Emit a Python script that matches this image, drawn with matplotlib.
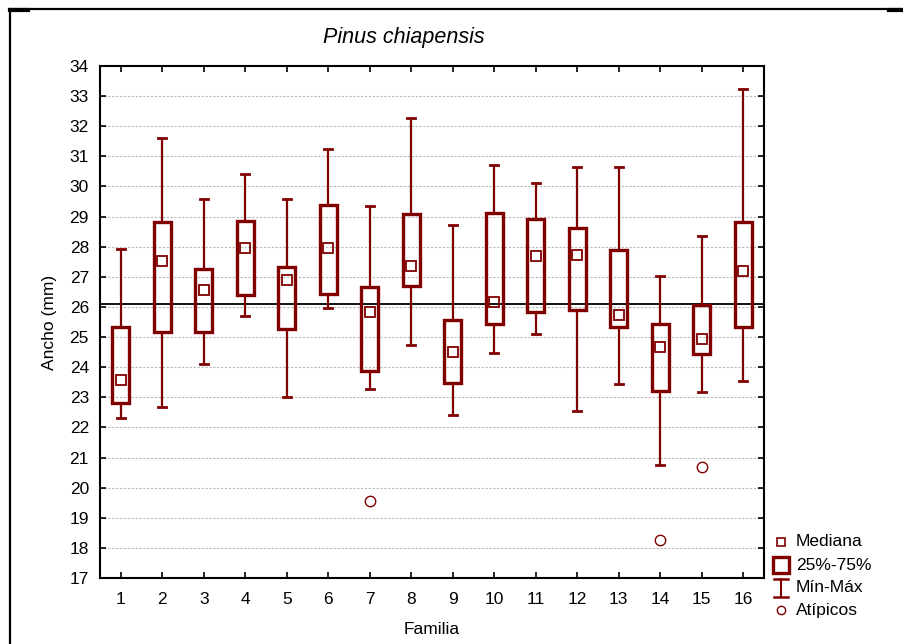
import matplotlib
matplotlib.use("Agg")
import matplotlib.pyplot as plt
from matplotlib.patches import Rectangle
from matplotlib.lines import Line2D

plt.rcParams['font.family'] = ['Liberation Sans', 'DejaVu Sans']

familias = list(range(1, 17))
minimo  = [22.30, 22.69, 24.12, 25.70, 23.00, 25.96, 23.27, 24.74, 22.42, 24.47, 25.11, 22.54, 23.45, 20.76, 23.17, 23.55]
q25     = [22.81, 25.17, 25.17, 26.39, 25.27, 26.44, 23.87, 26.69, 23.47, 25.42, 25.83, 25.90, 25.33, 23.21, 24.45, 25.35]
mediana = [23.59, 27.51, 26.55, 27.96, 26.88, 27.96, 25.84, 27.36, 24.50, 26.16, 27.68, 27.74, 25.74, 24.67, 24.93, 27.19]
q75     = [25.33, 28.81, 27.27, 28.84, 27.32, 29.40, 26.65, 29.07, 25.56, 29.11, 28.91, 28.61, 27.88, 25.45, 26.05, 28.81]
maximo  = [27.91, 31.62, 29.57, 30.40, 29.57, 31.23, 29.35, 32.29, 28.71, 30.72, 30.13, 30.64, 30.64, 27.04, 28.37, 33.22]
atipicos_x = [7, 14, 15]
atipicos_y = [19.55, 18.25, 20.69]
media_general = 26.1

RED = '#800000'
W, H = 904, 644
fig = plt.figure(figsize=(W / 100, H / 100), dpi=100)
ax = fig.add_axes([100 / W, 1 - 578 / H, 664 / W, 512 / H])

ax.set_ylim(17, 34)
ax.set_xlim(0.5, 16.5)
for yv in range(18, 34):
    ax.axhline(yv, color='#b8b8b8', lw=0.8, ls=(0, (2, 1.5)), zorder=0)

ax.axhline(media_general, color='black', lw=1.3, zorder=1)

bw = 0.4
cw = 0.2
for x, lo, a, m, b, hi in zip(familias, minimo, q25, mediana, q75, maximo):
    ax.plot([x, x], [b, hi], color=RED, lw=1.6, zorder=2, solid_capstyle='butt')
    ax.plot([x, x], [lo, a], color=RED, lw=1.6, zorder=2, solid_capstyle='butt')
    ax.plot([x - cw / 2, x + cw / 2], [hi, hi], color=RED, lw=2.0, zorder=2)
    ax.plot([x - cw / 2, x + cw / 2], [lo, lo], color=RED, lw=2.0, zorder=2)
    ax.add_patch(Rectangle((x - bw / 2, a), bw, b - a, fill=False,
                           edgecolor=RED, lw=2.4, zorder=3))
ax.plot(familias, mediana, ls='none', marker='s', ms=7.5, mfc='none',
        mec=RED, mew=1.3, zorder=4)
ax.plot(atipicos_x, atipicos_y, ls='none', marker='o', ms=7.5, mfc='none',
        mec=RED, mew=1.0, zorder=4)

ax.set_xticks(familias)
ax.set_xticklabels([str(f) for f in familias])
ax.set_yticks(range(17, 35))
ax.tick_params(direction='in', length=4, width=1.2, top=True, right=True,
               labelsize=12.5, colors='black')
ax.tick_params(axis='y', pad=8)
ax.tick_params(axis='x', pad=10)
for s in ax.spines.values():
    s.set_linewidth(1.5)
    s.set_color('black')

ax.set_ylabel('Ancho (mm)', fontsize=12.5, labelpad=9)
ax.set_xlabel('Familia', fontsize=12.5, labelpad=11)

fig.text(404 / W, 1 - 37 / H, 'Pinus chiapensis', fontsize=15.5, style='italic',
         ha='center', va='center')

# outer frame
fig.add_artist(Line2D([10 / W, 10 / W], [0, 1 - 9 / H], color='black', lw=1.6))
fig.add_artist(Line2D([10 / W, 1], [1 - 9 / H, 1 - 9 / H], color='black', lw=1.6))
fig.add_artist(Line2D([10 / W, 28 / W], [1 - 10 / H, 1 - 10 / H], color='black', lw=3))
fig.add_artist(Line2D([889 / W, 1], [1 - 10 / H, 1 - 10 / H], color='black', lw=3))

# legend
lx = 781 / W
tx = 796 / W
rows = [541.5, 565, 588, 610]
labels = ['Mediana', '25%-75%', 'Mín-Máx', 'Atípicos']
fig.add_artist(Line2D([lx], [1 - rows[0] / H], marker='s', ms=6, mfc='none', mec=RED, mew=1.2))
fig.add_artist(Line2D([lx], [1 - rows[1] / H], marker='s', ms=12, mfc='none', mec=RED, mew=2.4))
y0 = 1 - (rows[2] - 9) / H
y1 = 1 - (rows[2] + 9) / H
fig.add_artist(Line2D([lx, lx], [y0, y1], color=RED, lw=1.5))
fig.add_artist(Line2D([lx - 7 / W, lx + 7 / W], [y0, y0], color=RED, lw=1.8))
fig.add_artist(Line2D([lx - 7 / W, lx + 7 / W], [y1, y1], color=RED, lw=1.8))
fig.add_artist(Line2D([lx], [1 - rows[3] / H], marker='o', ms=6, mfc='none', mec=RED, mew=1.0))
for r, lab in zip(rows, labels):
    fig.text(tx, 1 - r / H, lab, fontsize=12.5, ha='left', va='center')

fig.savefig('out.png', dpi=100)
